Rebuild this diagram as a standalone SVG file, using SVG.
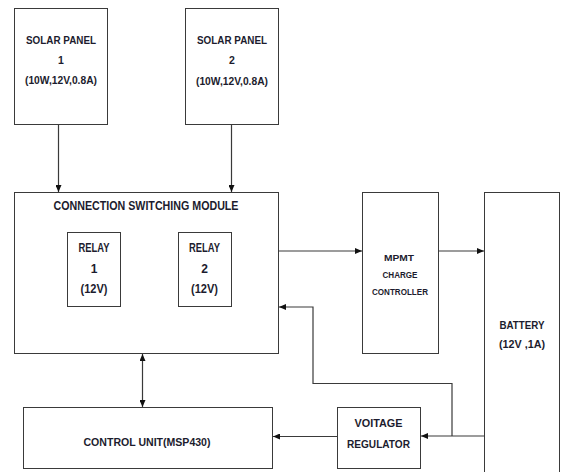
<svg xmlns="http://www.w3.org/2000/svg" width="562" height="472" viewBox="0 0 562 472">
<defs>
<style>
.box{fill:#ffffff;stroke:#3a3a3a;stroke-width:1}
.ln{fill:none;stroke:#3a3a3a;stroke-width:1.2}
.t{font-family:"Liberation Sans",Arial,sans-serif;font-weight:bold;fill:#1c1c2e;text-anchor:middle}
.s{font-family:"Liberation Sans",Arial,sans-serif;font-weight:bold;fill:#1c1c2e;text-anchor:middle}
</style>
<marker id="ah" viewBox="0 0 7 6" refX="7" refY="3" markerWidth="7" markerHeight="6" orient="auto-start-reverse" markerUnits="userSpaceOnUse">
<path d="M0,0 L7,3 L0,6 z" fill="#111"/>
</marker>
</defs>
<rect width="562" height="472" fill="#ffffff"/>

<g id="solar1">
<rect class="box" x="14.5" y="8.5" width="93" height="116"/>
<text class="t" x="61" y="43.5" font-size="10.5" textLength="70" lengthAdjust="spacingAndGlyphs">SOLAR PANEL</text>
<text class="t" x="61" y="64" font-size="10.5">1</text>
<text class="t" x="61" y="84" font-size="10" textLength="72" lengthAdjust="spacingAndGlyphs">(10W,12V,0.8A)</text>
</g>

<g id="solar2">
<rect class="box" x="185.5" y="8.5" width="93" height="116"/>
<text class="t" x="232" y="43.5" font-size="10.5" textLength="70" lengthAdjust="spacingAndGlyphs">SOLAR PANEL</text>
<text class="t" x="232" y="64" font-size="10.5">2</text>
<text class="t" x="232" y="85" font-size="10" textLength="72" lengthAdjust="spacingAndGlyphs">(10W,12V,0.8A)</text>
</g>

<g id="csm">
<rect class="box" x="14.5" y="192.5" width="264" height="161"/>
<text class="t" x="146" y="209.5" font-size="12" textLength="185" lengthAdjust="spacingAndGlyphs">CONNECTION SWITCHING MODULE</text>
</g>

<g id="relay1">
<rect class="box" x="67.5" y="232.5" width="53" height="74"/>
<text class="t" x="94" y="252" font-size="12" textLength="31" lengthAdjust="spacingAndGlyphs">RELAY</text>
<text class="t" x="94" y="273" font-size="12">1</text>
<text class="t" x="94" y="293" font-size="12" textLength="27" lengthAdjust="spacingAndGlyphs">(12V)</text>
</g>

<g id="relay2">
<rect class="box" x="178.5" y="232.5" width="53" height="74"/>
<text class="t" x="204.5" y="252" font-size="12" textLength="31" lengthAdjust="spacingAndGlyphs">RELAY</text>
<text class="t" x="204.5" y="273" font-size="12">2</text>
<text class="t" x="204.5" y="293" font-size="12" textLength="27" lengthAdjust="spacingAndGlyphs">(12V)</text>
</g>

<g id="mpmt">
<rect class="box" x="362.5" y="192.5" width="76" height="161"/>
<text class="s" x="399" y="261" font-size="9.5" textLength="30" lengthAdjust="spacingAndGlyphs">MPMT</text>
<text class="s" x="400" y="278" font-size="9.5" textLength="35" lengthAdjust="spacingAndGlyphs">CHARGE</text>
<text class="s" x="400" y="294.5" font-size="9.5" textLength="56" lengthAdjust="spacingAndGlyphs">CONTROLLER</text>
</g>

<g id="battery">
<rect class="box" x="484.5" y="192.5" width="75" height="300"/>
<text class="t" x="522" y="329" font-size="11" textLength="45" lengthAdjust="spacingAndGlyphs">BATTERY</text>
<text class="t" x="522" y="348" font-size="11" textLength="46" lengthAdjust="spacingAndGlyphs">(12V ,1A)</text>
</g>

<g id="control">
<rect class="box" x="23.5" y="407.5" width="249" height="61"/>
<text class="t" x="147" y="446" font-size="11" textLength="127" lengthAdjust="spacingAndGlyphs">CONTROL UNIT(MSP430)</text>
</g>

<g id="regulator">
<rect class="box" x="337.5" y="407.5" width="83" height="61"/>
<text class="t" x="378.5" y="427" font-size="11" textLength="48" lengthAdjust="spacingAndGlyphs">VOITAGE</text>
<text class="t" x="378.5" y="447.5" font-size="11" textLength="63" lengthAdjust="spacingAndGlyphs">REGULATOR</text>
</g>

<g id="connectors">
<line class="ln" x1="58.5" y1="124.5" x2="58.5" y2="192" marker-end="url(#ah)"/>
<line class="ln" x1="231.5" y1="124.5" x2="231.5" y2="192" marker-end="url(#ah)"/>
<line class="ln" x1="278.5" y1="251" x2="362" y2="251" marker-end="url(#ah)"/>
<line class="ln" x1="438.5" y1="251" x2="484" y2="251" marker-end="url(#ah)"/>
<line class="ln" x1="142.5" y1="354" x2="142.5" y2="407" marker-start="url(#ah)" marker-end="url(#ah)"/>
<line class="ln" x1="337.5" y1="436.5" x2="273" y2="436.5" marker-end="url(#ah)"/>
<line class="ln" x1="484.5" y1="436" x2="421" y2="436" marker-end="url(#ah)"/>
<polyline class="ln" points="452,436 452,383.5 313,383.5 313,307 279,307" marker-end="url(#ah)"/>
</g>
</svg>
